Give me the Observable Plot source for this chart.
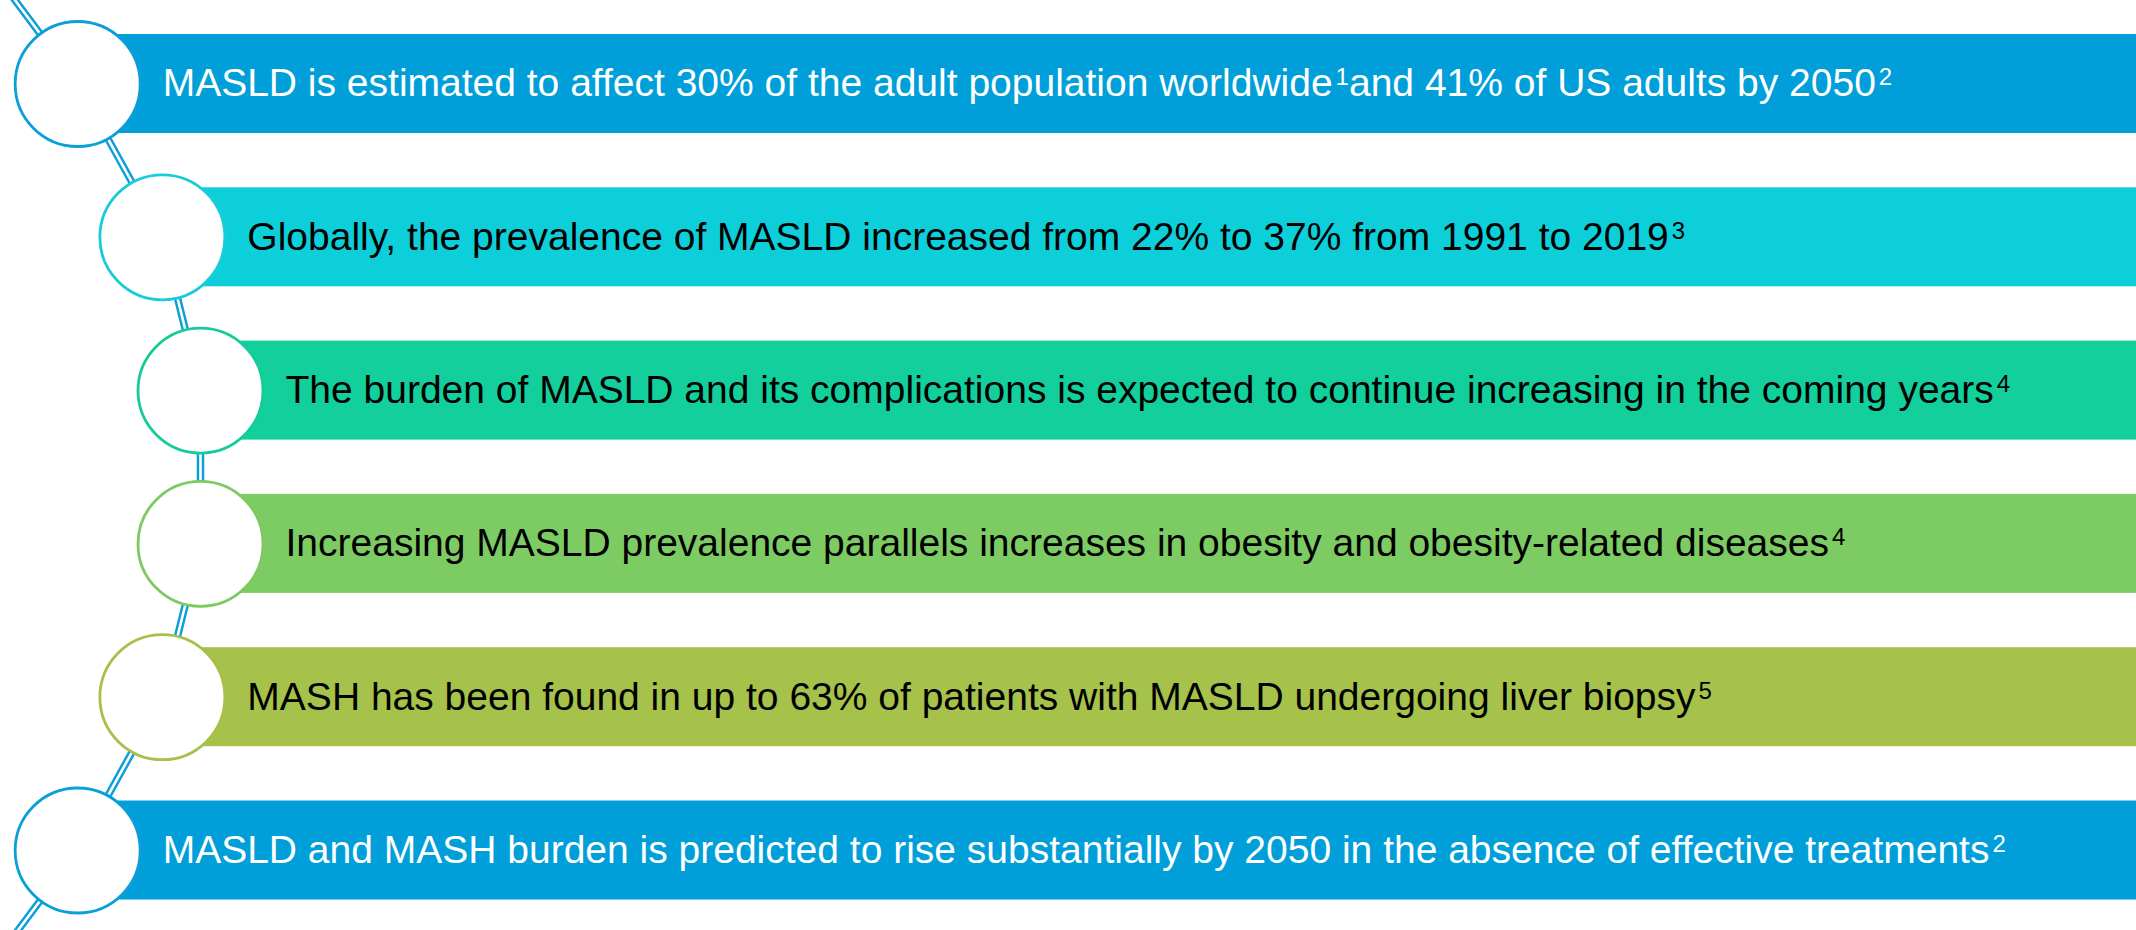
<!DOCTYPE html>
<html>
<head>
<meta charset="utf-8">
<script src="https://cdn.jsdelivr.net/npm/d3@7"></script>
<script src="https://cdn.jsdelivr.net/npm/@observablehq/plot@0.6"></script>
<style>
  html, body { margin: 0; padding: 0; background: #ffffff; }
  #chart svg { display: block; }
</style>
</head>
<body>
<div id="chart"></div>
<script>
// ---- data ----
const statements = [
  "MASLD is estimated to affect 30% of the adult population worldwide^1and 41% of US adults by 2050^2",
  "Globally, the prevalence of MASLD increased from 22% to 37% from 1991 to 2019^3",
  "The burden of MASLD and its complications is expected to continue increasing in the coming years^4",
  "Increasing MASLD prevalence parallels increases in obesity and obesity-related diseases^4",
  "MASH has been found in up to 63% of patients with MASLD undergoing liver biopsy^5",
  "MASLD and MASH burden is predicted to rise substantially by 2050 in the absence of effective treatments^2"
];
const barColors  = ["#009fda", "#0dcfda", "#12cf9b", "#7dcc63", "#a6c24a", "#009fda"];
const ringColors = ["#0a9fd9", "#19ccda", "#16cb9a", "#7dca62", "#a6c14a", "#0a9fd9"];
const textColors = ["#ffffff", "#000000", "#000000", "#000000", "#000000", "#ffffff"];
const connectorColor = "#0a9fd9";

// ---- layout ----
const W = 2136, H = 930;
const step = 153.3;          // px between rows
const firstCenter = 83.5;    // px of first row center
const half = 49.5 / step;    // bar half-height in row units
const R = 640;               // radius of the arc the rings follow
const inner = 200;           // x of the innermost ring
const mid = (statements.length - 1) / 2;
const X0 = inner - Math.sqrt(R * R - (0.5 * step) ** 2);
const arcX = i => { const dy = (i - mid) * step; return X0 + Math.sqrt(R * R - dy * dy); };
const arcSlope = i => { const dy = (i - mid) * step; return -dy / Math.sqrt(R * R - dy * dy); }; // dx/dy

const rows = statements.map((s, i) => ({
  i, s, cx: arcX(i), fill: barColors[i], ring: ringColors[i], ink: textColors[i]
}));

// connector path: tangent lead-in, ring centers, tangent lead-out
const last = rows.length - 1;
const yTop = -firstCenter / step - 0.05;
const yBot = (H - firstCenter) / step + 0.05;
const path = [
  {x: rows[0].cx + arcSlope(0) * (yTop - 0) * step, y: yTop},
  ...rows.map(d => ({x: d.cx, y: d.i})),
  {x: rows[last].cx + arcSlope(last) * (yBot - last) * step, y: yBot}
];

const font = "'Liberation Sans', Arial, Helvetica, sans-serif";

const svg = Plot.plot({
  width: W,
  height: H,
  margin: 0,
  x: {domain: [0, W], range: [0, W], axis: null},
  y: {domain: [-firstCenter / step, (H - firstCenter) / step], range: [0, H], axis: null},
  color: {type: "identity"},
  style: {background: "#ffffff", fontFamily: font},
  marks: [
    Plot.rect(rows, {x1: "cx", x2: () => W, y1: d => d.i - half, y2: d => d.i + half, fill: "fill"}),
    Plot.line(path, {x: "x", y: "y", stroke: connectorColor, strokeWidth: 7.5, curve: "linear"}),
    Plot.line(path, {x: "x", y: "y", stroke: "#ffffff", strokeWidth: 2.6, curve: "linear"}),
    Plot.dot(rows, {x: "cx", y: "i", r: 62.5, fill: "#ffffff", stroke: "ring", strokeWidth: 2.8}),
    Plot.text(rows, {
      x: d => d.cx + 85, y: "i", text: "s", textAnchor: "start", lineAnchor: "middle",
      fill: "ink", fontSize: 39, fontFamily: font
    })
  ]
});

// superscript references: turn "^n" markers into raised tspans
svg.querySelectorAll('g[aria-label="text"] text').forEach(t => {
  const raw = t.textContent;
  const parts = raw.split(/\^(\d+)/);
  while (t.firstChild) t.removeChild(t.firstChild);
  let raised = false;
  parts.forEach((p, k) => {
    if (p === "") return;
    const ts = document.createElementNS("http://www.w3.org/2000/svg", "tspan");
    ts.textContent = p;
    if (k % 2 === 1) {
      ts.setAttribute("font-size", 24);
      ts.setAttribute("dy", -11);
      ts.setAttribute("dx", 3);
      raised = true;
    } else if (raised) {
      ts.setAttribute("dy", 11);
      raised = false;
    }
    t.appendChild(ts);
  });
});

document.getElementById("chart").appendChild(svg);
</script>
</body>
</html>
